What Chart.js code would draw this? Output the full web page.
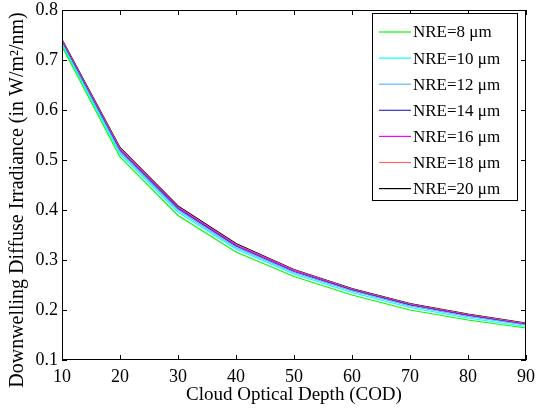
<!DOCTYPE html>
<html>
<head>
<meta charset="utf-8">
<script src="https://cdn.jsdelivr.net/npm/chart.js@4.4.0/dist/chart.umd.min.js"></script>
<style>
  html, body { margin: 0; padding: 0; background: #fff; }
  #wrap { width: 536px; height: 410px; }
</style>
</head>
<body>
<div id="wrap"><canvas id="myChart" width="536" height="410"></canvas></div>
<script>
// cloud optical depth
var cod = [10, 20, 30, 40, 50, 60, 70, 80, 90];

// downwelling diffuse irradiance per effective radius
var nre8  = [0.727, 0.506, 0.389, 0.316, 0.267, 0.230, 0.200, 0.180, 0.164];
var nre10 = [0.731, 0.512, 0.396, 0.322, 0.272, 0.235, 0.205, 0.184, 0.167];
var nre12 = [0.734, 0.516, 0.400, 0.325, 0.275, 0.238, 0.208, 0.187, 0.170];
var nre14 = [0.736, 0.519, 0.403, 0.328, 0.277, 0.240, 0.210, 0.189, 0.171];
var nre16 = [0.738, 0.521, 0.405, 0.330, 0.279, 0.241, 0.211, 0.190, 0.172];
var nre18 = [0.739, 0.523, 0.406, 0.331, 0.280, 0.242, 0.212, 0.191, 0.173];
var nre20 = [0.741, 0.525, 0.408, 0.333, 0.281, 0.243, 0.213, 0.192, 0.174];

var labels = ['NRE=8 \u03bcm', 'NRE=10 \u03bcm', 'NRE=12 \u03bcm', 'NRE=14 \u03bcm',
              'NRE=16 \u03bcm', 'NRE=18 \u03bcm', 'NRE=20 \u03bcm'];
var series = [nre8, nre10, nre12, nre14, nre16, nre18, nre20];
var colors = ['#00ff00', '#00ffff', '#66b2ff', '#3333cc', '#ff00ff', '#ff6666', '#000000'];

var serif = "'Liberation Serif', 'Times New Roman', serif";

var datasets = series.map(function(s, i){
    return {
        label: labels[i],
        data: s.map(function(v, j){ return {x: cod[j], y: v}; }),
        borderColor: colors[i],
        backgroundColor: colors[i],
        borderWidth: 1.2,
        pointRadius: 0,
        tension: 0,
        fill: false
    };
});

// matlab style box, inward ticks, legend and y label
var matlabBox = {
    id: 'matlabBox',
    afterDatasetsDraw: function(chart){
        var ctx = chart.ctx;
        var a = chart.chartArea;
        var xs = chart.scales.x, ys = chart.scales.y;
        ctx.save();
        ctx.strokeStyle = '#000';
        ctx.lineWidth = 1;
        ctx.strokeRect(a.left + 0.5, a.top + 0.5, a.right - a.left - 1, a.bottom - a.top - 1);
        ctx.beginPath();
        xs.ticks.forEach(function(t){
            var px = Math.round(xs.getPixelForValue(t.value)) + 0.5;
            ctx.moveTo(px, a.bottom); ctx.lineTo(px, a.bottom - 5);
            ctx.moveTo(px, a.top); ctx.lineTo(px, a.top + 5);
        });
        ys.ticks.forEach(function(t){
            var py = Math.round(ys.getPixelForValue(t.value)) + 0.5;
            ctx.moveTo(a.left, py); ctx.lineTo(a.left + 5, py);
            ctx.moveTo(a.right, py); ctx.lineTo(a.right - 5, py);
        });
        ctx.stroke();

        // legend
        var lx = 372.5, ly = 13.5, lw = 145, lh = 187;
        ctx.fillStyle = '#fff';
        ctx.fillRect(lx, ly, lw, lh);
        ctx.strokeRect(lx, ly, lw, lh);
        ctx.font = '17px ' + serif;
        ctx.textBaseline = 'middle';
        ctx.textAlign = 'left';
        chart.data.datasets.forEach(function(ds, i){
            var yy = 32 + i * 26.1;
            ctx.strokeStyle = ds.borderColor;
            ctx.lineWidth = 1.2;
            ctx.beginPath();
            ctx.moveTo(379, yy); ctx.lineTo(411, yy);
            ctx.stroke();
            ctx.fillStyle = '#000';
            ctx.fillText(ds.label, 413, yy + 1);
        });

        // y axis title
        ctx.translate(18, 200);
        ctx.rotate(-Math.PI / 2);
        ctx.textAlign = 'center';
        ctx.font = '20px ' + serif;
        ctx.fillText('Downwelling Diffuse Irradiance (in W/m\u00b2/nm)', 0, 0);
        ctx.restore();
    }
};

var ctx = document.getElementById('myChart').getContext('2d');

var myChart = new Chart(ctx, {
    type: 'line',
    data: { datasets: datasets },
    options: {
        responsive: false,
        animation: false,
        layout: { padding: { top: 10, right: 10, left: 0, bottom: 0 } },
        plugins: {
            legend: { display: false },
            tooltip: { enabled: false }
        },
        scales: {
            x: {
                type: 'linear',
                min: 10, max: 90,
                afterFit: function(s){ s.height = 50; s.paddingRight = 0; s.paddingLeft = 0; },
                border: { display: false },
                grid: { display: false, drawTicks: false },
                ticks: {
                    stepSize: 10, padding: 6, color: '#000',
                    maxRotation: 0,
                    font: { family: serif, size: 18 }
                },
                title: {
                    display: true, text: 'Cloud Optical Depth (COD)', color: '#000',
                    font: { family: serif, size: 19 },
                    padding: { top: 0, bottom: 4 }
                }
            },
            y: {
                min: 0.1, max: 0.8,
                afterFit: function(s){ s.width = 62; s.paddingTop = 0; s.paddingBottom = 0; },
                border: { display: false },
                grid: { display: false, drawTicks: false },
                ticks: {
                    stepSize: 0.1, padding: 4, color: '#000',
                    font: { family: serif, size: 18 },
                    callback: function(v){ return v.toFixed(1); }
                }
            }
        }
    },
    plugins: [matlabBox]
});
</script>
</body>
</html>
